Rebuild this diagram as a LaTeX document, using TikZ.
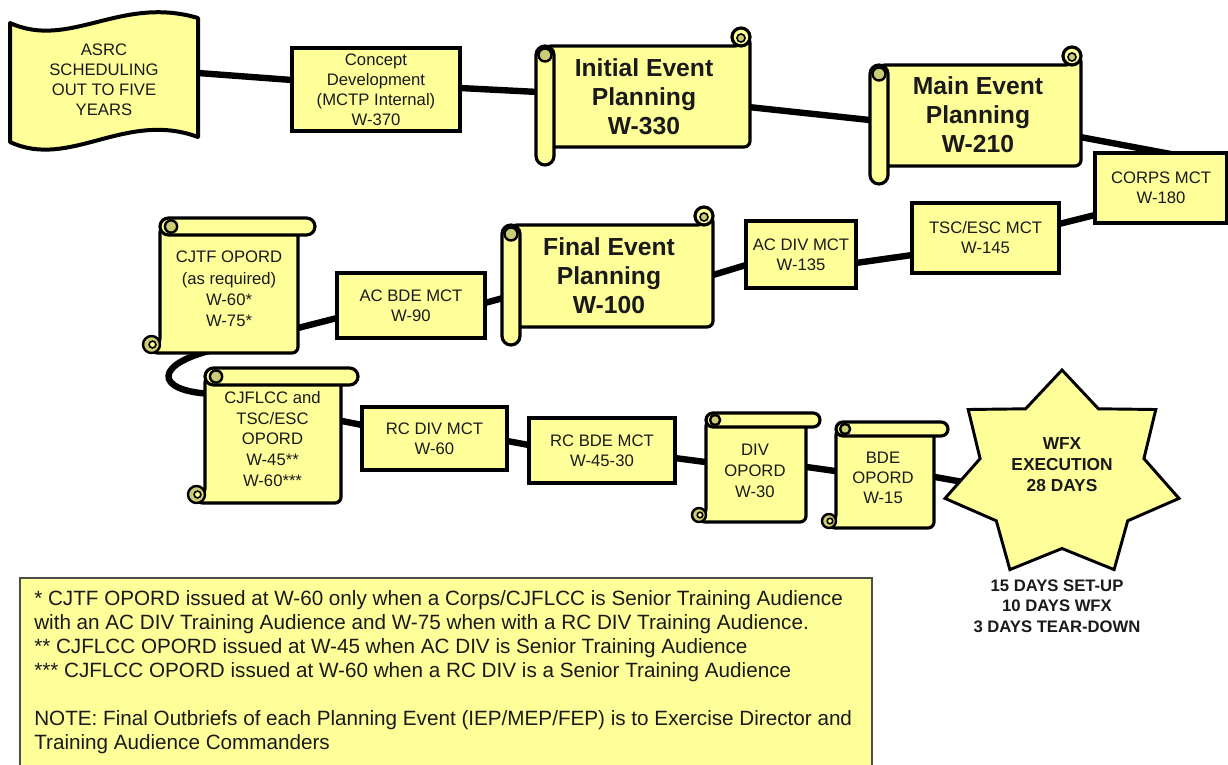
\documentclass[tikz,border=0pt]{standalone}
\usepackage{fontspec}
\setmainfont{Liberation Sans}
\usetikzlibrary{calc,backgrounds}

\definecolor{paper}{HTML}{FFFF99}
\definecolor{curl}{HTML}{CCCC77}
\definecolor{ink}{HTML}{1A1A1A}
\definecolor{noteedge}{HTML}{4D4D4D}

\tikzset{
  every node/.style={text=ink},
  link/.style={line width=4.8pt, draw=black},
  stepbox/.style={draw=black, line width=3pt, fill=paper, inner sep=0pt, align=center,
                  font=\fontsize{12.5}{15}\selectfont},
  scrollbody/.style={draw=black, line width=2.4pt, fill=paper, line join=round},
  scrollcurl/.style={draw=black, line width=1.8pt, fill=curl},
  labeltext/.style={align=center, inner sep=0pt, font=\fontsize{12.5}{15}\selectfont},
  titletext/.style={align=center, inner sep=0pt, font=\fontsize{18.5}{21.75}\selectfont\bfseries},
}

% scroll with a roll along the top and a curl at the bottom left
% #1,#2 = top-left corner, #3,#4 = bottom-right corner, #5 = roll thickness
\newcommand\drawvscroll[5]{%
  \pgfmathsetmacro\sa{#1}\pgfmathsetmacro\sb{#2}%
  \pgfmathsetmacro\sc{#3}\pgfmathsetmacro\sd{#4}%
  \pgfmathsetmacro\sh{#5}\pgfmathsetmacro\sr{#5/2}%
  \pgfmathsetmacro\rc{#5*0.375}%
  \path[scrollbody, rounded corners=4.5pt]
    (\sa+\sh,\sb+\sr) -- (\sa+\sh,\sd-\sr) -- (\sa+\sr,\sd-\sr) -- (\sa+\sr,\sd)
    -- (\sc-\sh,\sd) -- (\sc-\sh,\sb+\sr) -- cycle;
  \path[scrollcurl] (\sa+\sr,\sd-\sr) circle[radius=\sr];
  \path[draw=black, line width=1.2pt, fill=paper] (\sa+\sr+1,\sd-\sr) circle[radius=\sr*0.4];
  \path[scrollbody, rounded corners=\rc pt] (\sa+\sh,\sb) rectangle (\sc,\sb+\sh);
  \path[scrollcurl] (\sa+\sh+\sr*1.3,\sb+\sr) circle[radius=\sh*0.36];
}

% scroll with a roll down the left side and a curl at the top right
\newcommand\drawhscroll[5]{%
  \pgfmathsetmacro\sa{#1}\pgfmathsetmacro\sb{#2}%
  \pgfmathsetmacro\sc{#3}\pgfmathsetmacro\sd{#4}%
  \pgfmathsetmacro\sh{#5}\pgfmathsetmacro\sr{#5/2}%
  \pgfmathsetmacro\rc{#5*0.375}%
  \path[scrollbody, rounded corners=4.5pt]
    (\sa+\sr,\sb+\sh) -- (\sc-\sr,\sb+\sh) -- (\sc-\sr,\sb+\sr) -- (\sc,\sb+\sr)
    -- (\sc,\sd-\sh) -- (\sa+\sr,\sd-\sh) -- cycle;
  \path[scrollbody] (\sc-\sr,\sb+\sr) circle[radius=\sr];
  \path[scrollcurl, line width=1.2pt] (\sc-\sr,\sb+\sr+1) circle[radius=\sr*0.45];
  \path[scrollbody, rounded corners=\rc pt] (\sa,\sb+\sh) rectangle (\sa+\sh,\sd);
  \path[scrollcurl] (\sa+\sr,\sb+\sh+\sr) circle[radius=\sh*0.36];
}

\begin{document}
\begin{tikzpicture}[x=0.75pt,y=-0.75pt]
\begin{pgfonlayer}{background}
  \fill[white] (0,0) rectangle (1228,764);
\end{pgfonlayer}
\useasboundingbox (0,0) rectangle (1228,764);

% long-range scheduling banner
\path[scrollbody, line width=3pt] (10,23) .. controls (70,50) and (120,-5) .. (198,18)
  -- (198,137) .. controls (125,110) and (70,170) .. (10,142) -- cycle;
\node[labeltext] (asrc) at (104,80) {ASRC\\SCHEDULING\\OUT TO FIVE\\YEARS};

% planning conferences
\drawhscroll{536}{28}{750}{165}{18}
\node[titletext] (initial) at (644,97) {Initial Event\\Planning\\W-330};
\drawhscroll{870}{47}{1081}{184}{18}
\node[titletext] (mainev) at (978,115) {Main Event\\Planning\\W-210};
\drawhscroll{502}{207}{713}{345}{18}
\node[titletext] (final) at (609,276) {Final Event\\Planning\\W-100};

% orders
\drawvscroll{143}{218}{315}{353}{17}
\node[labeltext, font=\fontsize{12.5}{16}\selectfont] (cjtf) at (229,289)
  {CJTF OPORD\\(as required)\\W-60*\\W-75*};
\drawvscroll{188}{368}{358}{503}{17}
\node[labeltext, font=\fontsize{12.5}{15.4}\selectfont] (cjflcc) at (272.5,439)
  {CJFLCC and\\TSC/ESC\\OPORD\\W-45**\\W-60***};
\drawvscroll{692}{413}{820}{522}{14}
\node[labeltext, font=\fontsize{12.5}{15.75}\selectfont] (divop) at (755,471) {DIV\\OPORD\\W-30};
\drawvscroll{822}{422}{948}{528}{14}
\node[labeltext] (bdeop) at (883,478) {BDE\\OPORD\\W-15};

% mission command training events
\node[stepbox, minimum width=126pt, minimum height=62.25pt] (concept) at (376,89.5)
  {Concept\\Development\\(MCTP Internal)\\W-370};
\node[stepbox, minimum width=99pt, minimum height=52.5pt] (corps) at (1161,188) {CORPS MCT\\W-180};
\node[stepbox, minimum width=110.25pt, minimum height=52.5pt] (tsc) at (985.5,238) {TSC/ESC MCT\\W-145};
\node[stepbox, minimum width=82.5pt, minimum height=50.25pt] (acdiv) at (801,254.5) {AC DIV MCT\\W-135};
\node[stepbox, minimum width=111pt, minimum height=48.75pt] (acbde) at (411,305.5) {AC BDE MCT\\W-90};
\node[stepbox, minimum width=108.75pt, minimum height=47.25pt] (rcdiv) at (434.5,438.5) {RC DIV MCT\\W-60};
\node[stepbox, minimum width=109.5pt, minimum height=48.75pt] (rcbde) at (602,450.5) {RC BDE MCT\\W-45-30};

% exercise execution burst
\path[scrollbody, line width=2.2pt, line join=miter]
  (1062,370) -- (1025.6,408.8) -- (968.2,409.5) -- (980.1,458.6) -- (945.0,498.4)
  -- (996.3,520.8) -- (1009.9,569.6) -- (1062,548.5) -- (1114.1,569.6) -- (1127.7,520.8)
  -- (1179.0,498.4) -- (1143.9,458.6) -- (1155.8,409.5) -- (1098.4,408.8) -- cycle;
\node[align=center, inner sep=0pt, font=\fontsize{13}{15.75}\selectfont\bfseries] (wfx) at (1062,465)
  {WFX\\EXECUTION\\28 DAYS};
\node[align=center, inner sep=0pt, font=\fontsize{12.5}{15.5}\selectfont\bfseries] (wfxdays) at (1057,606)
  {15 DAYS SET-UP\\10 DAYS WFX\\3 DAYS TEAR-DOWN};

% footnotes
\path[draw=noteedge, line width=1.2pt, fill=paper] (20,578) rectangle (872,790);
\node[anchor=north west, inner sep=0pt, align=left, font=\fontsize{15.5}{18}\selectfont] (notes) at (34,590)
  {* CJTF OPORD issued at W-60 only when a Corps/CJFLCC is Senior Training Audience\\
   with an AC DIV Training Audience and W-75 when with a RC DIV Training Audience.\\
   ** CJFLCC OPORD issued at W-45 when AC DIV is Senior Training Audience\\
   *** CJFLCC OPORD issued at W-60 when a RC DIV is a Senior Training Audience\\[18pt]
   NOTE: Final Outbriefs of each Planning Event (IEP/MEP/FEP) is to Exercise Director and\\
   Training Audience Commanders};

% timeline connectors, behind the shapes
\begin{pgfonlayer}{background}
  \draw[link] ($(asrc.center)+(86,-7.6)$) -- ($(concept.center)+(-76,-8.9)$);
  \draw[link] ($(concept.center)+(76,-1.9)$) -- ($(initial.center)+(-98,-4.6)$);
  \draw[link] ($(initial.center)+(96,9.1)$) -- ($(mainev.center)+(-100,5.9)$);
  \draw[link] ($(mainev.center)+(94,20.5)$) -- ($(corps.center)+(19,-32.25)$);
  \draw[link] ($(corps.center)+(-58,25)$) -- ($(tsc.center)+(65.5,-12)$);
  \draw[link] ($(tsc.center)+(-65.5,15.9)$) -- ($(acdiv.center)+(47,9.6)$);
  \draw[link] ($(acdiv.center)+(-47,8.1)$) -- ($(final.center)+(96,1.4)$);
  \draw[link] ($(final.center)+(-98,19.8)$) -- ($(acbde.center)+(66,-0.3)$);
  \draw[link] ($(acbde.center)+(-66,10.5)$) -- ($(cjtf.center)+(61,41)$);
  \draw[link] ($(cjtf.center)+(-7,59)$) .. controls +(-70,14) and +(-62,-2) .. ($(cjflcc.center)+(-58.5,-45)$);
  \draw[link] ($(cjflcc.center)+(61.5,-19.6)$) -- ($(rcdiv.center)+(-64.5,-11.9)$);
  \draw[link] ($(rcdiv.center)+(64.5,1)$) -- ($(rcbde.center)+(-65,-4)$);
  \draw[link] ($(rcbde.center)+(65,6.5)$) -- ($(divop.center)+(-42,-8)$);
  \draw[link] ($(divop.center)+(44,-5.1)$) -- ($(bdeop.center)+(-40,-5.9)$);
  \draw[link] ($(bdeop.center)+(44,-2.4)$) -- ($(wfx.center)+(-72,21.8)$);
\end{pgfonlayer}
\end{tikzpicture}
\end{document}
